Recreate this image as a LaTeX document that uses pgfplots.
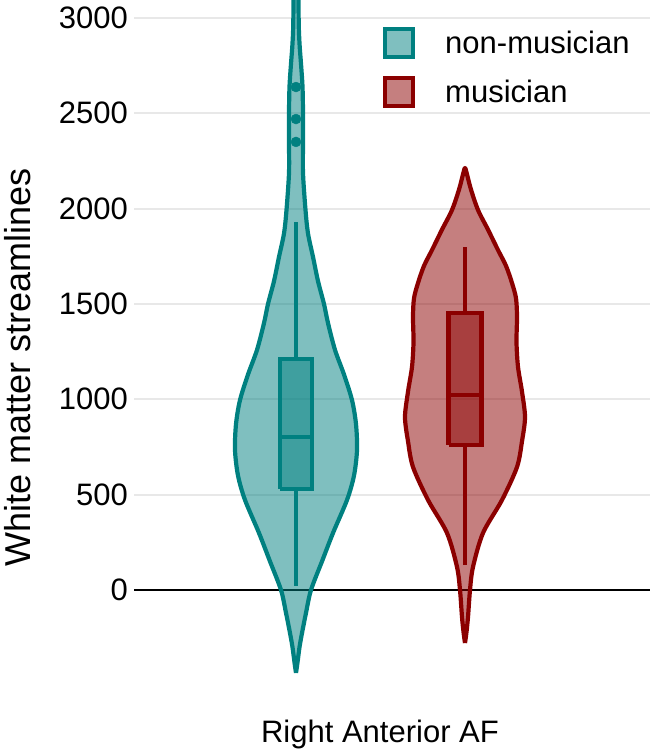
\documentclass[border=0pt]{standalone}
\usepackage{fontspec}
\setmainfont{Liberation Sans}
\usepackage{pgfplots}
\pgfplotsset{compat=1.18}
\definecolor{tealc}{RGB}{0,128,128}
\definecolor{redc}{RGB}{139,0,0}
\definecolor{gridc}{RGB}{232,232,232}
\begin{document}
\begin{tikzpicture}
\begin{axis}[
  at={(134bp,61bp)}, anchor=south west,
  scale only axis, width=516bp, height=690bp,
  xmin=134, xmax=650, ymin=-524.5, ymax=3094.4,
  axis line style={draw=none},
  xtick=\empty,
  ytick={500,1000,1500,2000,2500,3000},
  extra y ticks={0},
  extra y tick style={grid style={black, line width=1.8bp}},
  ymajorgrids, grid style={gridc, line width=1.8bp},
  major tick length=0pt,
  tick label style={font=\fontsize{31bp}{37bp}\selectfont},
  yticklabel style={inner sep=0pt, xshift=-6bp},
  /pgf/number format/assume math mode=true,
  /pgf/number format/1000 sep={},
  ylabel={White matter streamlines},
  ylabel style={font=\fontsize{36bp}{42bp}\selectfont, at={(axis description cs:-0.2248,0.468)}, anchor=center, rotate=0},
  xlabel={Right Anterior AF},
  xlabel style={font=\fontsize{31bp}{37bp}\selectfont, at={(axis description cs:0.4767,-0.0768)}, anchor=base},
  legend style={at={(axis description cs:0.4826,0.9609)}, anchor=north west, draw=none, fill=none, inner sep=0pt,
    font=\fontsize{31bp}{37bp}\selectfont, row sep=17bp,
    /tikz/every odd column/.append style={column sep=28bp}},
  legend cell align=left,
]
% non-musician violin
\addplot[forget plot, smooth, tension=0.5, draw=tealc, line width=4.2bp, fill=tealc, fill opacity=0.5, line join=round] coordinates {
(296,-435) (297.5,-380) (299.5,-300) (302,-226) (306,-120) (311,0) (322,150) (333,299) (347,472) (354,600) (357,734) (356,870) (352,996) (344,1130) (335,1259) (328,1400) (324,1500) (318,1620) (313,1747) (308,1870) (305.5,1993) (303,2187) (303,2350) (303,2500) (302.5,2640) (301,2760) (299.7,2850) (298.8,2950) (298.5,3100) (298.5,3250)
(293.5,3250) (293.5,3100) (293.2,2950) (292.3,2850) (291,2760) (289.5,2640) (289,2500) (289,2350) (289,2187) (286.5,1993) (284,1870) (279,1747) (274,1620) (268,1500) (264,1400) (257,1259) (248,1130) (240,996) (236,870) (235,734) (238,600) (245,472) (259,299) (270,150) (281,0) (286,-120) (290,-226) (292.5,-300) (294.5,-380) (296,-435)
};
% non-musician whiskers
\addplot[forget plot, draw=tealc, line width=4bp] coordinates {(296,21) (296,530)};
\addplot[forget plot, draw=tealc, line width=4bp] coordinates {(296,1211) (296,1930)};
% non-musician box
\addplot[forget plot, draw=tealc, line width=4.2bp, fill=tealc, fill opacity=0.5] coordinates {(280,530) (312,530) (312,1211) (280,1211) (280,530)};
\addplot[forget plot, draw=tealc, line width=4.2bp] coordinates {(280,802) (312,802)};
% outliers
\addplot[forget plot, only marks, mark=*, mark size=5bp, color=tealc] coordinates {(296,2638) (296,2470) (296,2350)};
% musician violin
\addplot[forget plot, smooth, tension=0.5, draw=redc, line width=4.2bp, fill=redc, fill opacity=0.5, line join=round] coordinates {
(465,-278) (466.5,-220) (468,-142) (470,0) (473,121) (483,299) (502,472) (517,645) (522,780) (525,907) (522,1040) (518,1170) (516.5,1300) (517,1432) (516,1530) (512,1610) (506,1700) (498,1783) (488,1890) (478,1993) (471,2100) (467,2180) (465,2213)
(463,2180) (459,2100) (452,1993) (442,1890) (432,1783) (424,1700) (418,1610) (414,1530) (413,1432) (413.5,1300) (412,1170) (408,1040) (405,907) (408,780) (413,645) (428,472) (447,299) (457,121) (460,0) (462,-142) (463.5,-220) (465,-278)
};
\addplot[forget plot, draw=redc, line width=4bp] coordinates {(465,131) (465,760)};
\addplot[forget plot, draw=redc, line width=4bp] coordinates {(465,1453) (465,1800)};
\addplot[forget plot, draw=redc, line width=4.2bp, fill=redc, fill opacity=0.5] coordinates {(448.5,760) (481.5,760) (481.5,1453) (448.5,1453) (448.5,760)};
\addplot[forget plot, draw=redc, line width=4.2bp] coordinates {(448.5,1023) (481.5,1023)};
% legend
\addlegendimage{legend image code/.code={\draw[line width=4.2bp, draw=tealc, fill=tealc, fill opacity=0.5] (2.1bp,-13.9bp) rectangle (29.9bp,13.9bp);}}
\addlegendentry{non-musician}
\addlegendimage{legend image code/.code={\draw[line width=4.2bp, draw=redc, fill=redc, fill opacity=0.5] (2.1bp,-13.9bp) rectangle (29.9bp,13.9bp);}}
\addlegendentry{musician}
\end{axis}
\pgfresetboundingbox
\useasboundingbox (0,0) rectangle (650bp,751bp);
\end{tikzpicture}
\end{document}
